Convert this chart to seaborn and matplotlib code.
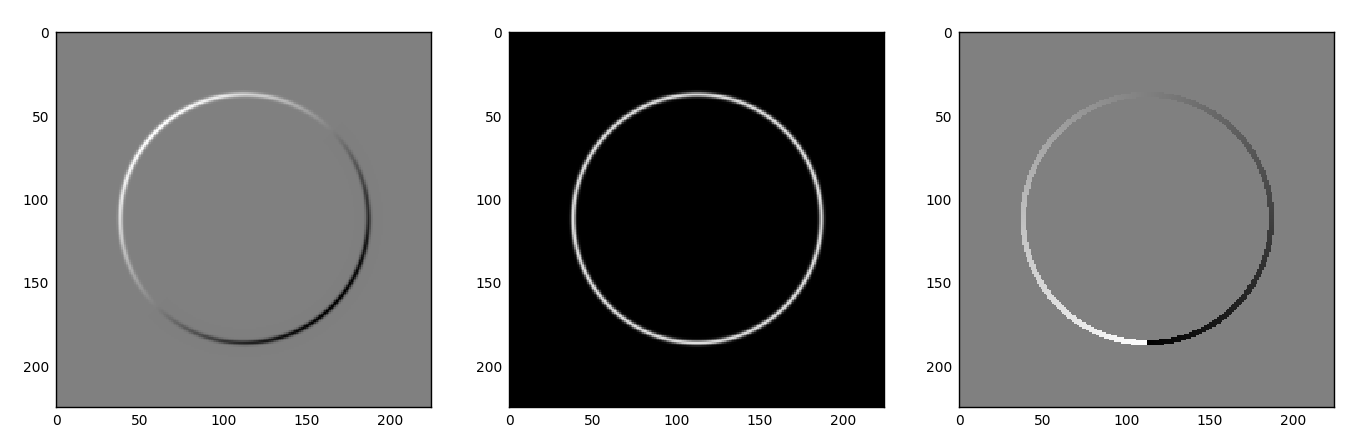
import numpy as np
import pandas as pd
import seaborn as sns
import matplotlib
matplotlib.use("Agg")
import matplotlib.pyplot as plt

# ring image parameters (in pixels)
IMG_SIZE = 225
CENTER = [112.5, 111.5]      # x, y
RADIUS = 74.5
RING_SIGMA = 1.0
DIR_HALF_WIDTH = 1.7
MAG_PEAK = 0.87              # ring brightness in the middle panel
TICKS = [0, 50, 100, 150, 200]

yy, xx = np.mgrid[0:IMG_SIZE, 0:IMG_SIZE].astype(float)
dx = xx - CENTER[0]
dy = yy - CENTER[1]
r = np.hypot(dx, dy)
ring = np.exp(-0.5 * ((r - RADIUS) / RING_SIGMA) ** 2)

# directional derivative (bright upper-left, dark lower-right)
with np.errstate(invalid="ignore", divide="ignore"):
    cos_t = np.where(r > 0, dx / r, 0)
    sin_t = np.where(r > 0, dy / r, 0)
deriv = ring * -(cos_t + sin_t) / np.sqrt(2)

# gradient magnitude
magnitude = ring * MAG_PEAK

# gradient direction, only on the ring
angle = np.arctan2(-dx, -dy)
direction = np.where(np.abs(r - RADIUS) < DIR_HALF_WIDTH, angle, 0.0)

panels = [
    (deriv, -np.abs(deriv).max(), np.abs(deriv).max()),
    (magnitude, 0, 1),
    (direction, -np.pi, np.pi),
]

sns.set_style("white")
plt.rcParams["font.family"] = ["DejaVu Sans"]

fig = plt.figure(figsize=(13.53, 4.45), dpi=100)
lefts = [55, 508, 958]
for (img, vmin, vmax), left in zip(panels, lefts):
    ax = fig.add_axes([left / 1353, 38 / 445, 377 / 1353, 375 / 445])
    sns.heatmap(pd.DataFrame(img), ax=ax, cmap="gray", vmin=vmin, vmax=vmax,
                cbar=False, xticklabels=False, yticklabels=False,
                rasterized=True)
    ax.set_aspect("equal")
    for s in ax.spines.values():
        s.set_visible(True)
        s.set_color("black")
        s.set_linewidth(1.0)
    ax.set_xticks([t + 0.5 for t in TICKS])
    ax.set_xticklabels([str(t) for t in TICKS])
    ax.set_yticks([t + 0.5 for t in TICKS])
    ax.set_yticklabels([str(t) for t in TICKS], rotation=0)
    ax.set_xlim(0, IMG_SIZE)
    ax.set_ylim(IMG_SIZE, 0)
    ax.tick_params(direction="in", length=4, width=0.8, top=True, right=True,
                   bottom=True, left=True, labelsize=10, colors="black",
                   pad=5)
    ax.set_xlabel("")
    ax.set_ylabel("")

fig.savefig("out.png", dpi=100)
